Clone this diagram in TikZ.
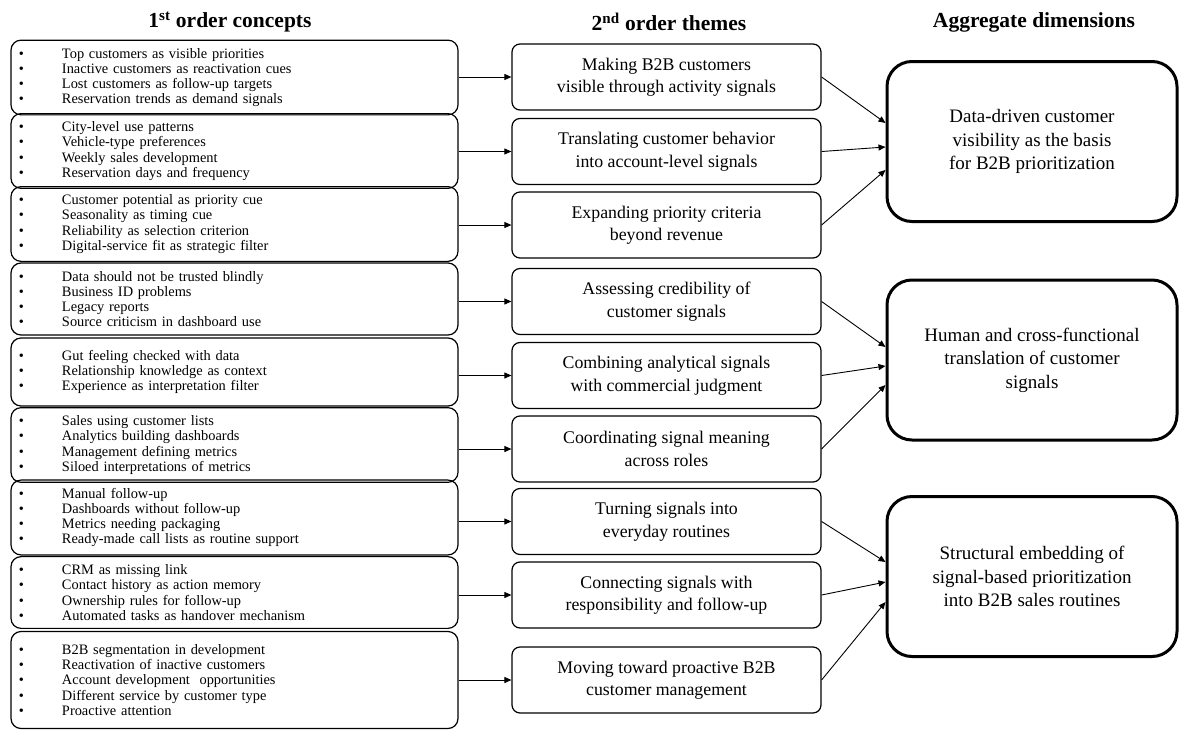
\documentclass[tikz,border=0pt]{standalone}
\usepackage{fontspec}
\setmainfont{Liberation Serif}
\usetikzlibrary{arrows.meta}
\newcommand\lbul[1]{\makebox[43pt][l]{\textbullet}#1}
\begin{document}
\begin{tikzpicture}[x=1pt,y=1pt,
  head/.style={font=\fontsize{21.5}{24}\selectfont\bfseries, inner sep=0pt},
  lbox/.style={draw, rounded corners=10pt, line width=1.2pt, minimum width=447pt,
    text width=431pt, inner sep=8pt, align=left, font=\fontsize{14.4}{15.2}\selectfont},
  mbox/.style={draw, rounded corners=8pt, line width=1.2pt, minimum width=309pt,
    minimum height=66pt, align=center, font=\fontsize{17.8}{22.5}\selectfont},
  rbox/.style={draw, rounded corners=25pt, line width=3pt, minimum width=290pt,
    minimum height=160pt, align=center, font=\fontsize{19}{23.5}\selectfont},
  arr/.style={-{Triangle[length=7pt,width=6pt]}, line width=0.9pt}]
\fill[white] (0,0) rectangle (1181,-731);
\useasboundingbox (0,0) rectangle (1181,-731);

% headings
\node[head] (h1) at (230,-22) {1\textsuperscript{st} order concepts};
\node[head] (h2) at (669,-22) {2\textsuperscript{nd} order themes};
\node[head] (h3) at (1034,-22) {Aggregate dimensions};

% first order concepts
\node[lbox, minimum height=71pt] (l1) at (234.5,-77.5) {\lbul{Top customers as visible priorities}\\\lbul{Inactive customers as reactivation cues}\\\lbul{Lost customers as follow-up targets}\\\lbul{Reservation trends as demand signals}};
\node[lbox, minimum height=72pt] (l2) at (234.5,-151) {\lbul{City-level use patterns}\\\lbul{Vehicle-type preferences}\\\lbul{Weekly sales development}\\\lbul{Reservation days and frequency}};
\node[lbox, minimum height=70pt] (l3) at (234.5,-224) {\lbul{Customer potential as priority cue}\\\lbul{Seasonality as timing cue}\\\lbul{Reliability as selection criterion}\\\lbul{Digital-service fit as strategic filter}};
\node[lbox, minimum height=72pt] (l4) at (234.5,-299) {\lbul{Data should not be trusted blindly}\\\lbul{Business ID problems}\\\lbul{Legacy reports}\\\lbul{Source criticism in dashboard use}};
\node[lbox, minimum height=68pt] (l5) at (234.5,-372) {\lbul{Gut feeling checked with data}\\\lbul{Relationship knowledge as context}\\\lbul{Experience as interpretation filter}};
\node[lbox, minimum height=70pt] (l6) at (234.5,-445) {\lbul{Sales using customer lists}\\\lbul{Analytics building dashboards}\\\lbul{Management defining metrics}\\\lbul{Siloed interpretations of metrics}};
\node[lbox, minimum height=69pt] (l7) at (234.5,-517.5) {\lbul{Manual follow-up}\\\lbul{Dashboards without follow-up}\\\lbul{Metrics needing packaging}\\\lbul{Ready-made call lists as routine support}};
\node[lbox, minimum height=71pt] (l8) at (234.5,-592.5) {\lbul{CRM as missing link}\\\lbul{Contact history as action memory}\\\lbul{Ownership rules for follow-up}\\\lbul{Automated tasks as handover mechanism}};
\node[lbox, minimum height=97pt] (l9) at (234.5,-680) {\lbul{B2B segmentation in development}\\\lbul{Reactivation of inactive customers}\\\lbul{Account development~ opportunities}\\\lbul{Different service by customer type}\\\lbul{Proactive attention}};

% second order themes
\node[mbox] (m1) at (666.5,-77) {Making B2B customers\\visible through activity signals};
\node[mbox] (m2) at (666.5,-151.5) {Translating customer behavior\\into account-level signals};
\node[mbox] (m3) at (666.5,-225) {Expanding priority criteria\\beyond revenue};
\node[mbox] (m4) at (666.5,-301.5) {Assessing credibility of\\customer signals};
\node[mbox] (m5) at (666.5,-375.5) {Combining analytical signals\\with commercial judgment};
\node[mbox] (m6) at (666.5,-449) {Coordinating signal meaning\\across roles};
\node[mbox] (m7) at (666.5,-521.5) {Turning signals into\\everyday routines};
\node[mbox] (m8) at (666.5,-595) {Connecting signals with\\responsibility and follow-up};
\node[mbox] (m9) at (666.5,-680) {Moving toward proactive B2B\\customer management};

% aggregate dimensions
\node[rbox] (r1) at (1032,-141.5) {Data-driven customer\\visibility as the basis\\for B2B prioritization};
\node[rbox] (r2) at (1032,-360) {Human and cross-functional\\translation of customer\\signals};
\node[rbox] (r3) at (1032,-576.5) {Structural embedding of\\signal-based prioritization\\into B2B sales routines};

% arrows first -> second
\foreach \i in {1,...,9}{
  \draw[arr] (l\i.east |- m\i.west) -- (m\i.west);
}

% arrows second -> aggregate
\draw[arr] (m1.east) -- ([yshift=18.5pt]r1.west);
\draw[arr] (m2.east) -- ([yshift=-5.5pt]r1.west);
\draw[arr] (m3.east) -- ([yshift=-28.5pt]r1.west);
\draw[arr] (m4.east) -- ([yshift=13pt]r2.west);
\draw[arr] (m5.east) -- ([yshift=-6pt]r2.west);
\draw[arr] (m6.east) -- ([yshift=-25pt]r2.west);
\draw[arr] (m7.east) -- ([yshift=14.5pt]r3.west);
\draw[arr] (m8.east) -- ([yshift=-5.5pt]r3.west);
\draw[arr] (m9.east) -- ([yshift=-25.5pt]r3.west);
\end{tikzpicture}
\end{document}
